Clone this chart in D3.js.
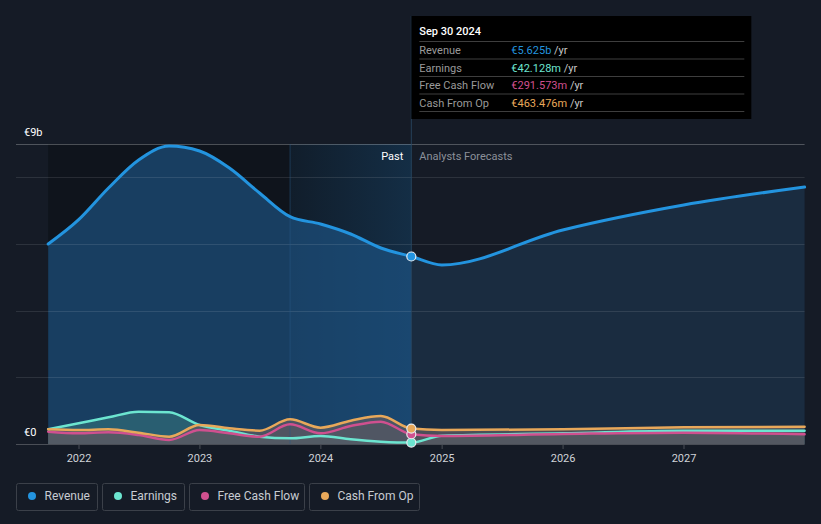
<!DOCTYPE html>
<html>
<head>
<meta charset="utf-8">
<script src="https://cdn.jsdelivr.net/npm/d3@7"></script>
<style>
	html, body { margin: 0; padding: 0; background: #151b26; }
	svg { display: block; font-family: Roboto, "Open Sans", sans-serif; }
</style>
</head>
<body>
<div id="chart"></div>
<script>
// Quarterly history (trailing twelve months) and yearly analyst forecasts, in billions of euros
const pastDates = [
	"2021-09-30", "2021-12-31", "2022-03-31", "2022-06-30", "2022-09-30", "2022-12-31", "2023-03-31",
	"2023-06-30", "2023-09-30", "2023-12-31", "2024-03-31", "2024-06-30", "2024-09-30",
];
const forecastDates = ["2024-12-31", "2025-12-31", "2026-12-31", "2027-12-31"];

const revenuePast = [6.0, 6.73, 7.68, 8.52, 8.94, 8.79, 8.28, 7.53, 6.82, 6.6, 6.3, 5.88, 5.625];
const revenueForecast = [5.37, 6.42, 7.17, 7.71];

const earningsPast = [0.44, 0.62, 0.8, 0.97, 0.95, 0.57, 0.4, 0.22, 0.17, 0.24, 0.14, 0.07, 0.042];
const earningsForecast = [0.25, 0.32, 0.4, 0.4];

const fcfPast = [0.37, 0.32, 0.35, 0.27, 0.12, 0.42, 0.32, 0.22, 0.59, 0.32, 0.54, 0.67, 0.292];
const fcfForecast = [0.24, 0.3, 0.34, 0.29];

const cfoPast = [0.44, 0.42, 0.44, 0.34, 0.22, 0.57, 0.47, 0.4, 0.74, 0.49, 0.7, 0.84, 0.463];
const cfoForecast = [0.42, 0.44, 0.5, 0.52];

const yearTicks = ["2022", "2023", "2024", "2025", "2026", "2027"];
const gridValues = [2, 4, 6, 8];
const yLabels = [{ value: 9, text: "€9b" }, { value: 0, text: "€0" }];

const seriesNames = ["Revenue", "Earnings", "Free Cash Flow", "Cash From Op"];
const seriesColors = ["#2394df", "#6ce5d0", "#d0508f", "#e8a85a"];
const tooltipValues = ["€5.625b", "€42.128m", "€291.573m", "€463.476m"];
const tooltipDate = "Sep 30 2024";

const width = 821;
const height = 524;

const parse = d3.utcParse("%Y-%m-%d");
const toSeries = (past, forecast) => [
	...past.map((v, i) => ({ date: parse(pastDates[i]), value: v })),
	...forecast.map((v, i) => ({ date: parse(forecastDates[i]), value: v })),
];

const revenue = toSeries(revenuePast, revenueForecast);
const earnings = toSeries(earningsPast, earningsForecast);
const fcf = toSeries(fcfPast, fcfForecast);
const cfo = toSeries(cfoPast, cfoForecast);

const x = d3
	.scaleUtc()
	.domain([parse("2022-01-01"), parse("2027-01-01")])
	.range([79, 684]);

const y = d3
	.scaleLinear()
	.domain([0, 9])
	.range([444, 144]);

const xStart = x(parse(pastDates[0]));
const xNow = x(parse(pastDates[pastDates.length - 1]));
const xYearAgo = x(parse(pastDates[pastDates.length - 5]));
const xEnd = x(parse(forecastDates[forecastDates.length - 1]));

const svg = d3
	.select("#chart")
	.append("svg")
	.attr("width", width)
	.attr("height", height)
	.attr("viewBox", [0, 0, width, height]);

const defs = svg.append("defs");

defs.append("clipPath").attr("id", "clip-past")
	.append("rect").attr("x", 0).attr("y", 0).attr("width", xNow).attr("height", height);
defs.append("clipPath").attr("id", "clip-future")
	.append("rect").attr("x", xNow).attr("y", 0).attr("width", width - xNow).attr("height", height);

const hl = defs.append("linearGradient").attr("id", "highlight").attr("x1", 0).attr("x2", 1).attr("y1", 0).attr("y2", 0);
hl.append("stop").attr("offset", 0).attr("stop-color", "#2070b0").attr("stop-opacity", 0.1);
hl.append("stop").attr("offset", 1).attr("stop-color", "#2070b0").attr("stop-opacity", 0.28);

// Background
svg.append("rect").attr("width", width).attr("height", height).attr("fill", "#151b26");

// Past region is darker, last year is highlighted
svg.append("rect")
	.attr("x", xStart).attr("y", y(9))
	.attr("width", xNow - xStart).attr("height", y(0) - y(9))
	.attr("fill", "#0f141c");

svg.append("rect")
	.attr("x", xYearAgo).attr("y", y(9))
	.attr("width", xNow - xYearAgo).attr("height", y(0) - y(9))
	.attr("fill", "url(#highlight)");

const area = d3.area()
	.x((d) => x(d.date))
	.y0(y(0))
	.y1((d) => y(d.value))
	.curve(d3.curveMonotoneX);

const line = d3.line()
	.x((d) => x(d.date))
	.y((d) => y(d.value))
	.curve(d3.curveMonotoneX);

// Revenue area, past and forecast
svg.append("path")
	.datum(revenue)
	.attr("clip-path", "url(#clip-past)")
	.attr("fill", "#1d5688")
	.attr("fill-opacity", 0.64)
	.attr("d", area);

svg.append("path")
	.datum(revenue)
	.attr("clip-path", "url(#clip-future)")
	.attr("fill", "#203d5a")
	.attr("fill-opacity", 0.5)
	.attr("d", area);

// Small series areas
svg.append("path")
	.datum(earnings)
	.attr("fill", "#4a9a90")
	.attr("fill-opacity", 0.35)
	.attr("d", area);

svg.append("path")
	.datum(cfo)
	.attr("fill", "#5c5b62")
	.attr("fill-opacity", 0.75)
	.attr("d", area);

svg.append("path")
	.datum(fcf)
	.attr("fill", "#5c5b62")
	.attr("fill-opacity", 0.3)
	.attr("d", area);

// Gridlines
svg.append("g")
	.selectAll("line")
	.data(gridValues)
	.join("line")
	.attr("x1", 16).attr("x2", xEnd)
	.attr("y1", (d) => Math.round(y(d)) + 0.5)
	.attr("y2", (d) => Math.round(y(d)) + 0.5)
	.attr("stroke", "#ffffff")
	.attr("stroke-opacity", 0.1);

svg.append("line")
	.attr("x1", 16).attr("x2", xEnd)
	.attr("y1", Math.round(y(9)) + 0.5).attr("y2", Math.round(y(9)) + 0.5)
	.attr("stroke", "#ffffff")
	.attr("stroke-opacity", 0.25);

// Highlight edges and the "now" line up to the tooltip
svg.append("line")
	.attr("x1", xYearAgo).attr("x2", xYearAgo)
	.attr("y1", y(9)).attr("y2", y(0))
	.attr("stroke", "#2a5a85").attr("stroke-opacity", 0.5);

svg.append("line")
	.attr("x1", xNow).attr("x2", xNow)
	.attr("y1", 16).attr("y2", y(0))
	.attr("stroke", "#2b4a66").attr("stroke-opacity", 0.8);

// X axis
const xAxis = svg.append("g")
	.attr("transform", `translate(0,${y(0)})`);

xAxis.append("line")
	.attr("x1", 16).attr("x2", xEnd)
	.attr("y1", 0.5).attr("y2", 0.5)
	.attr("stroke", "#4a4e56");

const ticks = xAxis.selectAll("g.tick")
	.data(yearTicks)
	.join("g")
	.attr("class", "tick")
	.attr("transform", (d) => `translate(${x(parse(d + "-01-01"))},0)`);

ticks.append("line").attr("y1", 0).attr("y2", 5).attr("stroke", "#4a4e56");
ticks.append("text")
	.attr("y", 18)
	.attr("text-anchor", "middle")
	.attr("fill", "#d0d3d8")
	.attr("font-size", 11)
	.text((d) => d);

// Y labels
svg.append("g")
	.selectAll("text")
	.data(yLabels)
	.join("text")
	.attr("x", 24)
	.attr("y", (d) => y(d.value) - 8)
	.attr("fill", "#ffffff")
	.attr("font-size", 11)
	.text((d) => d.text);

// Lines
[revenue, earnings, fcf, cfo].forEach((data, i) => {
	svg.append("path")
		.datum(data)
		.attr("fill", "none")
		.attr("stroke", seriesColors[i])
		.attr("stroke-width", i === 0 ? 3 : 2.5)
		.attr("stroke-linejoin", "round")
		.attr("stroke-linecap", "round")
		.attr("d", line);
});

// Markers at the latest reported date
[revenue, earnings, fcf, cfo].forEach((data, i) => {
	const d = data[pastDates.length - 1];
	svg.append("circle")
		.attr("cx", x(d.date))
		.attr("cy", y(d.value))
		.attr("r", 4.5)
		.attr("fill", seriesColors[i])
		.attr("stroke", "#e8ecf0")
		.attr("stroke-width", 1.2);
});

// Past / forecast labels
svg.append("text")
	.attr("x", xNow - 8).attr("y", 160)
	.attr("text-anchor", "end")
	.attr("fill", "#ffffff")
	.attr("font-size", 11)
	.text("Past");

svg.append("text")
	.attr("x", xNow + 8).attr("y", 160)
	.attr("fill", "#8b9099")
	.attr("font-size", 11)
	.text("Analysts Forecasts");

// Tooltip
const tip = svg.append("g").attr("transform", `translate(${xNow},16)`);

tip.append("rect")
	.attr("width", 340).attr("height", 103)
	.attr("fill", "#000000");

tip.append("text")
	.attr("x", 8).attr("y", 19)
	.attr("fill", "#ffffff")
	.attr("font-size", 11)
	.attr("font-weight", 500)
	.text(tooltipDate);

const rows = tip.selectAll("g.row")
	.data(seriesNames)
	.join("g")
	.attr("class", "row")
	.attr("transform", (d, i) => `translate(0,${25.5 + i * 17.5})`);

rows.append("line")
	.attr("x1", 8).attr("x2", 333)
	.attr("y1", 0).attr("y2", 0)
	.attr("stroke", "#3e3e3e");

rows.append("text")
	.attr("x", 8).attr("y", 12.5)
	.attr("fill", "#9a9a9a")
	.attr("font-size", 11)
	.text((d) => d);

const valueText = rows.append("text")
	.attr("x", 100).attr("y", 12.5)
	.attr("font-size", 11);

valueText.append("tspan")
	.attr("fill", (d, i) => seriesColors[i])
	.text((d, i) => tooltipValues[i]);

valueText.append("tspan")
	.attr("fill", "#c8c8c8")
	.text(" /yr");

tip.append("line")
	.attr("x1", 8).attr("x2", 333)
	.attr("y1", 25.5 + 4 * 17.5).attr("y2", 25.5 + 4 * 17.5)
	.attr("stroke", "#3e3e3e");

// Legend
const legendWidths = [81, 82, 115, 110];
let legendX = 16.5;
const legend = svg.append("g").attr("transform", "translate(0,483.5)");

seriesNames.forEach((name, i) => {
	const item = legend.append("g").attr("transform", `translate(${legendX},0)`);
	item.append("rect")
		.attr("width", legendWidths[i]).attr("height", 27)
		.attr("rx", 2)
		.attr("fill", "none")
		.attr("stroke", "#3b4049");
	item.append("circle")
		.attr("cx", 15.5).attr("cy", 12.5)
		.attr("r", 4)
		.attr("fill", seriesColors[i]);
	item.append("text")
		.attr("x", 28).attr("y", 16.5)
		.attr("fill", "#c8ccd2")
		.attr("font-size", 12)
		.text(name);
	legendX += legendWidths[i] + 5;
});
</script>
</body>
</html>
